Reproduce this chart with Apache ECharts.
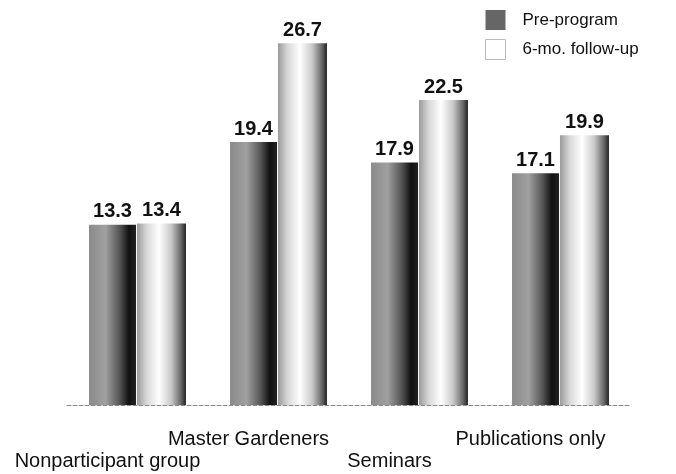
<!DOCTYPE html>
<html><head><meta charset="utf-8">
<script src="https://cdn.jsdelivr.net/npm/echarts@6/dist/echarts.min.js"></script>
<style>html,body{margin:0;padding:0;background:#fff}#c{width:676px;height:474px}</style>
</head><body><div id="c"></div>
<script>
const categories = ['Nonparticipant group','Master Gardeners','Seminars','Publications only'];
const preProgram = [13.3, 19.4, 17.9, 17.1];
const followUp = [13.4, 26.7, 22.5, 19.9];
const seriesNames = ['Pre-program','6-mo. follow-up'];

const darkGrad = new echarts.graphic.LinearGradient(0,0,1,0,[
  {offset:0,color:'#8a8a8a'},{offset:0.35,color:'#a0a0a0'},{offset:0.65,color:'#555'},{offset:0.85,color:'#111'},{offset:1,color:'#222'}]);
const lightGrad = new echarts.graphic.LinearGradient(0,0,1,0,[
  {offset:0,color:'#9a9a9a'},{offset:0.2,color:'#d8d8d8'},{offset:0.45,color:'#ffffff'},{offset:0.7,color:'#c8c8c8'},{offset:0.9,color:'#666'},{offset:1,color:'#222'}]);
const lblStyle = {show:true,position:'top',distance:3,fontFamily:'Liberation Sans, Arial',fontWeight:'bold',fontSize:20,color:'#111'};

const chart = echarts.init(document.getElementById('c'),null,{renderer:'canvas'});
chart.setOption({
  animation:false,
  backgroundColor:'#fff',
  grid:{left:67,right:45,top:12,bottom:69},
  legend:{
    orient:'vertical',left:480,top:5,itemWidth:20,itemHeight:20,itemGap:9,icon:'rect',
    textStyle:{fontFamily:'Liberation Sans, Arial',fontSize:17,color:'#111',padding:[0,0,0,12]},
    data:[{name:seriesNames[0],itemStyle:{color:'#666'}},{name:seriesNames[1],itemStyle:{color:'#fff',borderColor:'#bbb',borderWidth:1}}]
  },
  xAxis:{
    type:'category',data:categories,
    axisLine:{lineStyle:{color:'#888',type:'dashed',width:1}},
    axisTick:{show:false},
    axisLabel:{
      interval:0,fontFamily:'Liberation Sans, Arial',fontSize:20,color:'#111',
      margin:23,lineHeight:22,padding:[0,60,0,0],
      formatter:function(v,i){return i%2===0?'\n'+v:v;}
    }
  },
  yAxis:{type:'value',min:0,max:29,show:false,splitLine:{show:false}},
  series:[
    {name:seriesNames[0],type:'bar',data:preProgram,barWidth:47,barGap:'2%',itemStyle:{color:darkGrad},label:lblStyle},
    {name:seriesNames[1],type:'bar',data:followUp,barWidth:49,itemStyle:{color:lightGrad},label:lblStyle}
  ]
});
</script></body></html>
